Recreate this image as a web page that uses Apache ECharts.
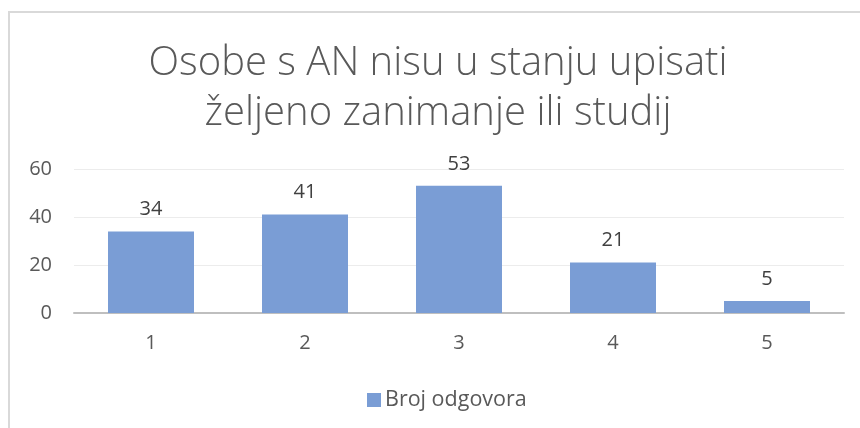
<!DOCTYPE html>
<html>
<head>
<meta charset="utf-8">
<script src="https://cdn.jsdelivr.net/npm/echarts@6/dist/echarts.min.js"></script>
<style>
html, body { margin: 0; padding: 0; background: #fff; }
#frame { position: absolute; left: 8px; top: 11px; width: 852px; height: 417px;
  border-left: 2px solid #d9d9d9; border-top: 2px solid #d9d9d9; }
#chart { position: absolute; left: 0; top: 0; width: 860px; height: 428px; }
</style>
</head>
<body>
<div id="frame"></div>
<div id="chart"></div>
<script>
var categories = ['1', '2', '3', '4', '5'];
var values = [34, 41, 53, 21, 5];
var seriesName = 'Broj odgovora';
var titleText = 'Osobe s AN nisu u stanju upisati\nželjeno zanimanje ili studij';

var chart = echarts.init(document.getElementById('chart'));
var option = {
    animation: false,
    title: {
        text: titleText,
        left: 433,
        textAlign: 'center',
        top: 34,
        textStyle: {
            color: '#595959',
            fontFamily: 'Open Sans',
            fontWeight: 300,
            fontSize: 40,
            lineHeight: 50
        }
    },
    legend: {
        data: [seriesName],
        left: 362,
        top: 384,
        itemWidth: 14,
        itemHeight: 14,
        itemGap: 6,
        icon: 'rect',
        textStyle: {
            color: '#595959',
            fontFamily: 'Open Sans',
            fontSize: 21.5,
            padding: [0, 0, 0, -1]
        }
    },
    grid: {
        left: 74,
        right: 16,
        top: 169,
        bottom: 115
    },
    xAxis: {
        type: 'category',
        data: categories,
        axisTick: { show: false },
        axisLine: { lineStyle: { color: '#bfbfbf', width: 2 } },
        axisLabel: {
            color: '#595959',
            fontFamily: 'Open Sans',
            fontSize: 20,
            margin: 20
        }
    },
    yAxis: {
        type: 'value',
        min: 0,
        max: 60,
        interval: 20,
        axisLine: { show: false },
        axisTick: { show: false },
        splitLine: { lineStyle: { color: '#ececec', width: 1 } },
        axisLabel: {
            color: '#595959',
            fontFamily: 'Open Sans',
            fontSize: 20,
            margin: 22
        }
    },
    series: [{
        name: seriesName,
        type: 'bar',
        data: values,
        barWidth: 86,
        itemStyle: { color: '#7A9DD5' },
        label: {
            show: true,
            position: 'top',
            distance: 12,
            color: '#404040',
            fontFamily: 'Open Sans',
            fontSize: 20
        }
    }]
};
chart.setOption(option);
</script>
</body>
</html>
